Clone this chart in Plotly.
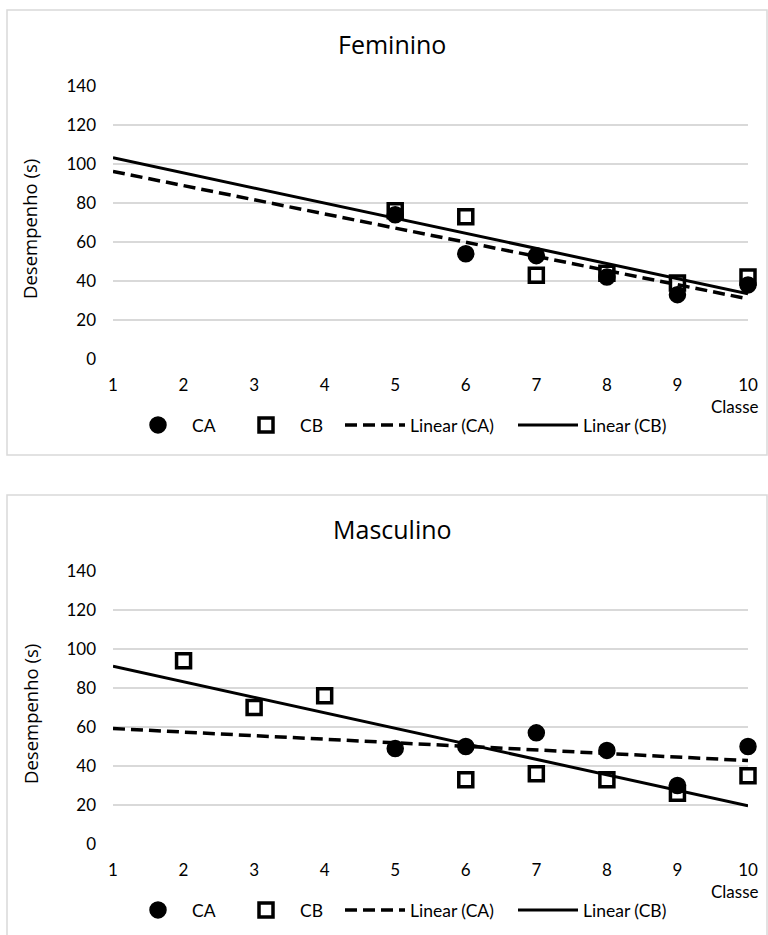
import numpy as np
import plotly.graph_objects as go

# ---------------- data ----------------
x_tick_vals = [1, 2, 3, 4, 5, 6, 7, 8, 9, 10]
y_tick_vals = [0, 20, 40, 60, 80, 100, 120, 140]

fem_ca_x = [5, 6, 7, 8, 9, 10]
fem_ca_y = [74, 54, 53, 42, 33, 38]
fem_cb_x = [5, 6, 7, 8, 9, 10]
fem_cb_y = [76, 73, 43, 44, 39, 42]

masc_ca_x = [5, 6, 7, 8, 9, 10]
masc_ca_y = [49, 50, 57, 48, 30, 50]
masc_cb_x = [2, 3, 4, 6, 7, 8, 9, 10]
masc_cb_y = [94, 70, 76, 33, 36, 33, 26, 35]

trend_x = [1, 10]  # Excel trendline extended over the whole axis

panel_titles = ["Feminino", "Masculino"]
y_title = "Desempenho (s)"
x_title = "Classe"
names = ["CA", "CB", "Linear (CA)", "Linear (CB)"]

# ---------------- styling ----------------
W, H = 768, 935
TICK_FONT = dict(family="Lato, sans-serif", size=17, color="#000000")
GRID = "#d9d9d9"


def py(p):
    return 1 - p / H


def px(p):
    return p / W


def linfit(xs, ys):
    k, b = np.polyfit(xs, ys, 1)
    return [k * t + b for t in trend_x]


fig = go.Figure()

panels = [
    dict(ca=(fem_ca_x, fem_ca_y), cb=(fem_cb_x, fem_cb_y), off=0, xa="x", ya="y"),
    dict(ca=(masc_ca_x, masc_ca_y), cb=(masc_cb_x, masc_cb_y), off=485, xa="x2", ya="y2"),
]

legend_layouts = {}
for i, p in enumerate(panels):
    base = 4 * i
    leg_ids = ["legend" if base + j == 0 else f"legend{base + j + 1}" for j in range(4)]
    ca_x, ca_y = p["ca"]
    cb_x, cb_y = p["cb"]
    fig.add_trace(go.Scatter(
        x=ca_x, y=ca_y, mode="markers", name=names[0],
        marker=dict(symbol="circle", size=16, color="#000000",
                    line=dict(width=1.5, color="#000000")),
        xaxis=p["xa"], yaxis=p["ya"], legend=leg_ids[0], cliponaxis=False))
    fig.add_trace(go.Scatter(
        x=cb_x, y=cb_y, mode="markers", name=names[1],
        marker=dict(symbol="square-open", size=14, color="#000000",
                    line=dict(width=3.5, color="#000000")),
        xaxis=p["xa"], yaxis=p["ya"], legend=leg_ids[1], cliponaxis=False))
    fig.add_trace(go.Scatter(
        x=trend_x, y=linfit(ca_x, ca_y), mode="lines", name=names[2],
        line=dict(color="#000000", width=3.5, dash="12px,6px"),
        xaxis=p["xa"], yaxis=p["ya"], legend=leg_ids[2]))
    fig.add_trace(go.Scatter(
        x=trend_x, y=linfit(cb_x, cb_y), mode="lines", name=names[3],
        line=dict(color="#000000", width=3),
        xaxis=p["xa"], yaxis=p["ya"], legend=leg_ids[3]))

    ly = py(425 + p["off"])
    leg_x = [124, 232, 340, 513]
    item_w = [58, 58, 60, 60]
    for j in range(4):
        legend_layouts[leg_ids[j]] = dict(
            x=px(leg_x[j]), y=ly, xanchor="left", yanchor="middle",
            orientation="h", itemwidth=item_w[j],
            font=dict(family="Lato, sans-serif", size=17.5, color="#000000"),
            bgcolor="rgba(0,0,0,0)", borderwidth=0, itemclick=False,
            itemdoubleclick=False)

axis_common_x = dict(range=[1, 10], tickvals=x_tick_vals, showgrid=False,
                     zeroline=False, showline=False, ticks="", tickfont=TICK_FONT,
                     ticklabelstandoff=14, fixedrange=True, automargin=False)
axis_common_y = dict(range=[0, 140], tickvals=y_tick_vals, showgrid=True,
                     gridcolor=GRID, gridwidth=1.5, zeroline=False, showline=False,
                     ticks="", tickfont=TICK_FONT, ticklabelstandoff=16, fixedrange=True,
                     automargin=False)

fig.update_layout(
    width=W, height=H, autosize=False,
    margin=dict(l=0, r=0, t=0, b=0, pad=0, autoexpand=False),
    paper_bgcolor="#ffffff", plot_bgcolor="#ffffff",
    xaxis=dict(domain=[px(113), px(748)], anchor="y", **axis_common_x),
    yaxis=dict(domain=[py(359), py(86)], anchor="x", **axis_common_y),
    xaxis2=dict(domain=[px(113), px(748)], anchor="y2", **axis_common_x),
    yaxis2=dict(domain=[py(844), py(571)], anchor="x2", **axis_common_y),
    showlegend=True,
    **legend_layouts,
)

annotations = []
shapes = []
for i, p in enumerate(panels):
    off = p["off"]
    annotations.append(dict(
        text=panel_titles[i], x=px(392), y=py(44 + off), xref="paper", yref="paper",
        xanchor="center", yanchor="middle", showarrow=False,
        font=dict(family="Open Sans, sans-serif", size=25, color="#000000")))
    annotations.append(dict(
        text=y_title, x=px(30), y=py(229 + off), xref="paper", yref="paper",
        xanchor="center", yanchor="middle", textangle=-90, showarrow=False,
        font=dict(family="Open Sans, sans-serif", size=18.5, color="#000000")))
    annotations.append(dict(
        text=x_title, x=px(761), y=py(406 + off), xref="paper", yref="paper",
        xanchor="right", yanchor="middle", showarrow=False,
        font=dict(family="Lato, sans-serif", size=17, color="#000000")))
    y_bottom = 455 if i == 0 else 945
    shapes.append(dict(
        type="rect", xref="paper", yref="paper",
        x0=px(7), x1=px(767), y0=py(y_bottom), y1=py(10 + off),
        line=dict(color=GRID, width=1.5), fillcolor="rgba(0,0,0,0)", layer="below"))

fig.update_layout(annotations=annotations, shapes=shapes)

fig.write_html("out.html", config={"displayModeBar": False},
               post_script="document.body.style.margin='0';")
